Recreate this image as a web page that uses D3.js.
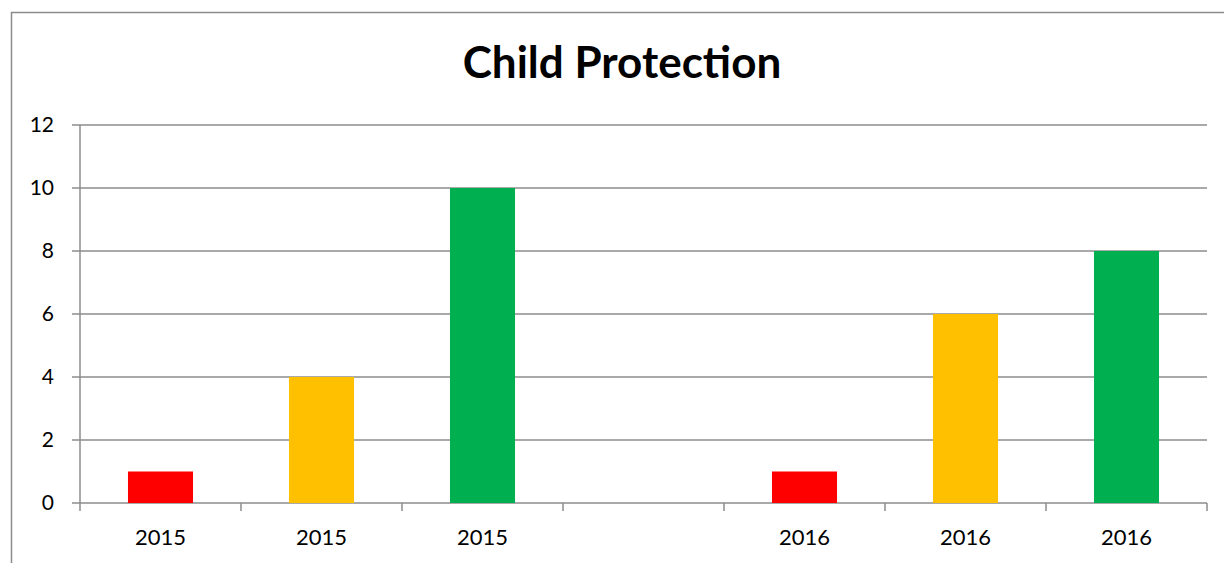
<!doctype html>
<html>
  <head>
    <meta charset="utf-8">
    <title>Child Protection</title>
    <script src="https://cdn.jsdelivr.net/npm/d3@7"></script>
    <style>
      body { margin: 0; background: #fff; }
      text { font-family: Lato, "Open Sans", sans-serif; fill: #000; }
    </style>
  </head>
  <body>
    <script>
      // data
      const categories = ['2015', '2015', '2015', '', '2016', '2016', '2016'];
      const values = [1, 4, 10, 0, 1, 6, 8];
      const barColors = ['#ff0000', '#ffc000', '#00b050', '#ffffff', '#ff0000', '#ffc000', '#00b050'];
      const yTicks = [0, 2, 4, 6, 8, 10, 12];

      const svgWidth = 1224;
      const svgHeight = 563;
      const padding = { top: 125, right: 17, bottom: 60, left: 80 };

      const svg = d3.select('body').append('svg')
          .attr('width', svgWidth)
          .attr('height', svgHeight);

      // chart frame
      svg.append('rect')
          .attr('x', 11.5).attr('y', 12.5)
          .attr('width', svgWidth + 20).attr('height', svgHeight + 20)
          .attr('fill', 'none')
          .attr('stroke', '#8c8c8c')
          .attr('stroke-width', 1.5);

      // title
      svg.append('text')
          .attr('x', 622).attr('y', 78)
          .attr('text-anchor', 'middle')
          .attr('font-size', 44)
          .attr('font-weight', 'bold')
          .text('Child Protection');

      const plotW = svgWidth - padding.left - padding.right;
      const plotH = svgHeight - padding.top - padding.bottom;

      const g = svg.append('g')
          .attr('transform', `translate(${padding.left}, ${padding.top})`);

      const xScale = d3.scaleBand()
          .domain(d3.range(categories.length))
          .range([0, plotW])
          .paddingInner(0.596)
          .paddingOuter(0.298);
      // band edges for ticks
      const xEdge = d3.scaleLinear().domain([0, categories.length]).range([0, plotW]);

      const yScale = d3.scaleLinear()
          .domain([0, 12])
          .range([plotH, 0]);

      // gridlines
      g.append('g')
          .selectAll('line')
          .data(yTicks)
          .enter().append('line')
          .attr('x1', -8).attr('x2', plotW)
          .attr('y1', d => yScale(d)).attr('y2', d => yScale(d))
          .attr('stroke', '#8c8c8c')
          .attr('stroke-width', 1.5);

      // y axis line
      g.append('line')
          .attr('x1', 0).attr('x2', 0)
          .attr('y1', 0).attr('y2', plotH)
          .attr('stroke', '#8c8c8c')
          .attr('stroke-width', 1.5);

      // y labels
      g.append('g')
          .selectAll('text')
          .data(yTicks)
          .enter().append('text')
          .attr('x', -26)
          .attr('y', d => yScale(d))
          .attr('dy', '0.35em')
          .attr('text-anchor', 'end')
          .attr('font-size', 21)
          .text(d => d);

      // bars
      g.append('g')
          .selectAll('rect')
          .data(values)
          .enter().append('rect')
          .attr('x', (d, i) => xScale(i))
          .attr('y', d => yScale(d))
          .attr('width', xScale.bandwidth())
          .attr('height', d => plotH - yScale(d))
          .attr('fill', (d, i) => barColors[i]);

      // x axis ticks
      g.append('g')
          .selectAll('line')
          .data(d3.range(categories.length + 1))
          .enter().append('line')
          .attr('x1', d => xEdge(d)).attr('x2', d => xEdge(d))
          .attr('y1', plotH).attr('y2', plotH + 8)
          .attr('stroke', '#8c8c8c')
          .attr('stroke-width', 1.5);

      // x labels
      g.append('g')
          .selectAll('text')
          .data(categories)
          .enter().append('text')
          .attr('x', (d, i) => xScale(i) + xScale.bandwidth() / 2)
          .attr('y', plotH + 42)
          .attr('text-anchor', 'middle')
          .attr('font-size', 22)
          .text(d => d);
    </script>
  </body>
</html>
